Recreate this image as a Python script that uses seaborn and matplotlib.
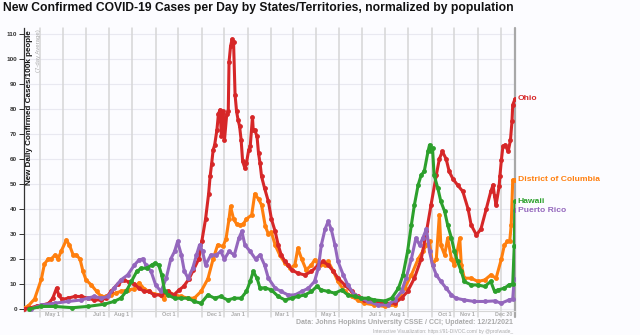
import matplotlib
matplotlib.use("Agg")
import matplotlib.pyplot as plt
import matplotlib.transforms as mtrans
import pandas as pd
import seaborn as sns

# ---------------- data ----------------
states = ["Ohio", "District of Columbia", "Hawaii", "Puerto Rico"]
state_colors = ["#d62728", "#ff7f0e", "#2ca02c", "#9467bd"]

ohio_dates = [
    "2020-03-11", "2020-03-20", "2020-03-28", "2020-04-05", "2020-04-13", "2020-04-18", "2020-04-23",
    "2020-04-26", "2020-04-30", "2020-05-08", "2020-05-17", "2020-05-26", "2020-06-03", "2020-06-12",
    "2020-06-21", "2020-06-27", "2020-07-04", "2020-07-13", "2020-07-21", "2020-07-28", "2020-08-04",
    "2020-08-10", "2020-08-17", "2020-08-23", "2020-08-30", "2020-09-08", "2020-09-17", "2020-09-25",
    "2020-10-02", "2020-10-08", "2020-10-15", "2020-10-21", "2020-10-28", "2020-11-01", "2020-11-06",
    "2020-11-10", "2020-11-12", "2020-11-14", "2020-11-16", "2020-11-18", "2020-11-21", "2020-11-23",
    "2020-11-25", "2020-11-27", "2020-11-29", "2020-12-01", "2020-12-04", "2020-12-06", "2020-12-07",
    "2020-12-09", "2020-12-11", "2020-12-13", "2020-12-15", "2020-12-17", "2020-12-19", "2020-12-21",
    "2020-12-23", "2020-12-25", "2020-12-28", "2020-12-30", "2021-01-02", "2021-01-04", "2021-01-07",
    "2021-01-08", "2021-01-10", "2021-01-13", "2021-01-15", "2021-01-17", "2021-01-19", "2021-01-23",
    "2021-01-28", "2021-02-01", "2021-02-06", "2021-02-10", "2021-02-14", "2021-02-19", "2021-02-23",
    "2021-02-28", "2021-03-08", "2021-03-17", "2021-03-26", "2021-04-04", "2021-04-10", "2021-04-17",
    "2021-04-24", "2021-04-30", "2021-05-09", "2021-05-18", "2021-05-26", "2021-06-04", "2021-06-17",
    "2021-07-01", "2021-07-14", "2021-07-23", "2021-07-31", "2021-08-09", "2021-08-18", "2021-08-25",
    "2021-08-31", "2021-09-07", "2021-09-11", "2021-09-15", "2021-09-20", "2021-09-24", "2021-09-29",
    "2021-10-05", "2021-10-12", "2021-10-19", "2021-10-23", "2021-10-30", "2021-11-05", "2021-11-12",
    "2021-11-18", "2021-11-21", "2021-11-23", "2021-11-25", "2021-11-29", "2021-11-30", "2021-12-02",
    "2021-12-04", "2021-12-07", "2021-12-11", "2021-12-14", "2021-12-16", "2021-12-17", "2021-12-20",
]
ohio_values = [
    0, 0.5, 1.2, 1.6, 2.3, 4.3, 8.3,
    5.6, 3.8, 4.3, 5, 5, 4.3, 3.6,
    3.6, 4.3, 7, 10, 11.6, 10.7, 10,
    8.3, 7, 7, 5.6, 5.6, 7, 5.6,
    7.6, 9, 12, 15.6, 20, 27, 36,
    46, 53, 58, 63.6, 65.6, 71.6, 78,
    79.6, 69, 79, 67.6, 78, 79, 98.7,
    105, 107.9, 106.7, 85.6, 79, 75.6, 73,
    67.6, 59, 56.3, 58.3, 63.6, 65, 76.7,
    71.6, 71.6, 69, 62.3, 58.3, 53, 48.3,
    43, 36, 31, 25.6, 21.6, 19, 17.6,
    15.6, 14.3, 13.6, 15, 17.6, 19, 17.6,
    15, 12.3, 9.6, 7, 5, 3.6, 3,
    2.3, 2.3, 4.3, 7, 12.3, 20, 31,
    41.6, 53.6, 60, 63, 60, 55, 52,
    49.6, 47, 40, 33.6, 29.6, 32, 40,
    47, 49.6, 45, 41.6, 49, 53, 59.6,
    65, 65.6, 63, 67.6, 75, 81.6, 84,
]

dc_dates = [
    "2020-03-11", "2020-03-16", "2020-03-25", "2020-04-03", "2020-04-07", "2020-04-12", "2020-04-16",
    "2020-04-21", "2020-04-25", "2020-04-29", "2020-05-06", "2020-05-10", "2020-05-15", "2020-05-19",
    "2020-05-24", "2020-05-28", "2020-06-01", "2020-06-08", "2020-06-15", "2020-06-21", "2020-06-28",
    "2020-07-04", "2020-07-11", "2020-07-17", "2020-07-26", "2020-08-04", "2020-08-10", "2020-08-17",
    "2020-08-23", "2020-08-30", "2020-09-08", "2020-09-12", "2020-09-17", "2020-09-26", "2020-10-05",
    "2020-10-14", "2020-10-22", "2020-10-31", "2020-11-09", "2020-11-16", "2020-11-22", "2020-11-29",
    "2020-12-03", "2020-12-07", "2020-12-09", "2020-12-13", "2020-12-17", "2020-12-22", "2020-12-26",
    "2020-12-30", "2021-01-06", "2021-01-10", "2021-01-15", "2021-01-19", "2021-01-24", "2021-01-28",
    "2021-02-01", "2021-02-06", "2021-02-12", "2021-02-19", "2021-02-26", "2021-03-04", "2021-03-08",
    "2021-03-13", "2021-03-19", "2021-03-26", "2021-03-30", "2021-04-06", "2021-04-13", "2021-04-17",
    "2021-04-24", "2021-04-30", "2021-05-09", "2021-05-18", "2021-05-26", "2021-06-04", "2021-06-17",
    "2021-07-01", "2021-07-14", "2021-07-21", "2021-07-27", "2021-08-05", "2021-08-14", "2021-08-20",
    "2021-08-25", "2021-08-29", "2021-09-02", "2021-09-07", "2021-09-11", "2021-09-13", "2021-09-18",
    "2021-09-22", "2021-09-27", "2021-10-01", "2021-10-08", "2021-10-10", "2021-10-14", "2021-10-23",
    "2021-11-01", "2021-11-10", "2021-11-18", "2021-11-25", "2021-12-02", "2021-12-06", "2021-12-10",
    "2021-12-13", "2021-12-15", "2021-12-17", "2021-12-20",
]
dc_values = [
    0.5, 1, 4, 12, 18, 20, 20,
    21.6, 20, 23, 27.6, 25.6, 21.6, 21.6,
    20, 15, 11.6, 9.6, 7, 5, 5,
    5.6, 6.5, 7, 7.6, 8, 10.5, 8,
    7, 6, 5.6, 4, 7, 5.6, 5,
    4.3, 4.3, 7, 12, 20, 25.6, 25,
    28, 36, 41, 36, 34, 33.6, 34,
    36, 37.6, 46, 44, 41.6, 33, 30,
    30.6, 25.6, 21.6, 18.3, 16.3, 17.6, 24.3,
    20, 15.6, 17.6, 19.6, 17.6, 17.6, 19,
    15, 11, 7, 5, 3.6, 2.3, 1.6,
    1, 1.6, 5.6, 8.3, 13.6, 20, 23,
    25.6, 27, 17.6, 20, 37.6, 25.6, 21.6,
    28.3, 20, 17.6, 28.3, 17.6, 12.3, 12.3,
    11, 11.6, 13.6, 12.3, 20, 25.6, 27,
    27, 33.6, 51.6, 51.6,
]

hawaii_dates = [
    "2020-03-18", "2020-04-03", "2020-04-21", "2020-05-14", "2020-06-03", "2020-06-25", "2020-07-08",
    "2020-07-17", "2020-07-24", "2020-07-31", "2020-08-07", "2020-08-13", "2020-08-20", "2020-08-27",
    "2020-08-31", "2020-09-05", "2020-09-09", "2020-09-13", "2020-09-17", "2020-09-26", "2020-10-05",
    "2020-10-14", "2020-10-22", "2020-10-31", "2020-11-09", "2020-11-18", "2020-11-26", "2020-12-05",
    "2020-12-14", "2020-12-23", "2020-12-30", "2021-01-04", "2021-01-08", "2021-01-13", "2021-01-17",
    "2021-01-23", "2021-02-01", "2021-02-10", "2021-02-19", "2021-02-28", "2021-03-08", "2021-03-17",
    "2021-03-26", "2021-04-02", "2021-04-08", "2021-04-17", "2021-04-26", "2021-05-05", "2021-05-13",
    "2021-05-22", "2021-05-31", "2021-06-09", "2021-06-17", "2021-07-01", "2021-07-10", "2021-07-19",
    "2021-07-25", "2021-07-31", "2021-08-05", "2021-08-09", "2021-08-14", "2021-08-18", "2021-08-22",
    "2021-08-27", "2021-08-29", "2021-08-31", "2021-09-02", "2021-09-04", "2021-09-09", "2021-09-13",
    "2021-09-18", "2021-09-22", "2021-09-27", "2021-10-01", "2021-10-05", "2021-10-10", "2021-10-14",
    "2021-10-23", "2021-11-01", "2021-11-10", "2021-11-18", "2021-11-23", "2021-11-27", "2021-12-06",
    "2021-12-12", "2021-12-17", "2021-12-19", "2021-12-20",
]
hawaii_values = [
    0, 1, 1, 0.5, 1, 1.9, 3,
    4.3, 7, 11, 15, 16.3, 16.3, 17.6,
    18.3, 17.6, 13.6, 7, 5.6, 4.3, 4.3,
    4.3, 3, 2.3, 5.6, 4.3, 5, 3.6,
    4.3, 4.3, 7, 11, 15, 12.3, 8.3,
    8.5, 7.6, 5, 3.6, 4.3, 5, 5.6,
    7, 9, 7.6, 7, 6.3, 7.6, 5.6,
    5, 4.3, 4.3, 3.6, 3.2, 4.3, 8.3,
    13.6, 23, 33.6, 41.6, 49.6, 53.6, 55,
    63, 65.6, 63, 64.3, 53.6, 48.3, 43,
    39, 33.6, 28.3, 23, 19, 15, 11,
    9.6, 9.6, 9, 11, 7, 7.6, 8.3,
    9.6, 10, 25, 43,
]

pr_dates = [
    "2020-03-20", "2020-04-03", "2020-04-21", "2020-05-08", "2020-05-26", "2020-06-03", "2020-06-12",
    "2020-06-21", "2020-06-30", "2020-07-08", "2020-07-17", "2020-07-26", "2020-08-04", "2020-08-10",
    "2020-08-15", "2020-08-19", "2020-08-26", "2020-09-01", "2020-09-08", "2020-09-15", "2020-09-21",
    "2020-09-26", "2020-09-30", "2020-10-05", "2020-10-09", "2020-10-14", "2020-10-20", "2020-10-25",
    "2020-10-29", "2020-11-02", "2020-11-06", "2020-11-13", "2020-11-20", "2020-11-26", "2020-12-01",
    "2020-12-07", "2020-12-14", "2020-12-20", "2020-12-24", "2020-12-28", "2021-01-04", "2021-01-11",
    "2021-01-17", "2021-01-23", "2021-01-28", "2021-02-06", "2021-02-14", "2021-02-23", "2021-03-04",
    "2021-03-13", "2021-03-22", "2021-03-30", "2021-04-04", "2021-04-08", "2021-04-13", "2021-04-17",
    "2021-04-21", "2021-04-26", "2021-04-30", "2021-05-07", "2021-05-13", "2021-05-22", "2021-05-31",
    "2021-06-09", "2021-06-22", "2021-07-05", "2021-07-14", "2021-07-23", "2021-07-29", "2021-08-05",
    "2021-08-11", "2021-08-16", "2021-08-20", "2021-08-25", "2021-08-29", "2021-09-02", "2021-09-07",
    "2021-09-13", "2021-09-20", "2021-09-27", "2021-10-03", "2021-10-14", "2021-10-27", "2021-11-10",
    "2021-11-23", "2021-12-02", "2021-12-12", "2021-12-17", "2021-12-19", "2021-12-20",
]
pr_values = [
    0, 1.6, 2.3, 3, 3.6, 4.3, 5,
    4.3, 5, 8.3, 11.6, 13.6, 17.6, 19.6,
    20, 17.6, 15, 9.6, 7, 12.3, 20,
    23, 27, 21.6, 15, 12.3, 16.3, 21.6,
    25.6, 23, 17.6, 21.6, 21.6, 23, 20,
    23, 21.6, 28.3, 31, 25.6, 23, 20,
    21.6, 17.6, 12.3, 8.3, 7, 5.6, 5.6,
    7, 8.3, 11, 16.3, 25.6, 32, 35,
    32, 25.6, 19, 13.6, 9.6, 5.6, 4.3,
    3, 1.6, 1.6, 3.6, 7, 12.3, 20,
    28.3, 25.6, 28.3, 32, 23, 17.6, 13.6,
    11, 8.3, 5.6, 4.3, 3.6, 3, 3,
    3.2, 2.3, 3.6, 4, 12, 39.5,
]

y_ticks = [0, 10, 20, 30, 40, 50, 60, 70, 80, 90, 100, 110]
x_tick_dates = ["2020-05-01", "2020-07-01", "2020-08-01", "2020-10-01", "2020-12-01", "2021-01-01",
                "2021-03-01", "2021-05-01", "2021-07-01", "2021-08-01", "2021-10-01", "2021-11-01",
                "2021-12-20"]
x_tick_labels = ["May 1", "Jul 1", "Aug 1", "Oct 1", "Dec 1", "Jan 1", "Mar 1", "May 1", "Jul 1",
                 "Aug 1", "Oct 1", "Nov 1", "Dec 20"]

title = "New Confirmed COVID-19 Cases per Day by States/Territories, normalized by population"
y_label = "New Daily Confirmed Cases/100k people"
y_sublabel = "(7-day Average)"
footer1 = "Data: Johns Hopkins University CSSE / CCI; Updated: 12/21/2021"
footer2 = "Interactive Visualization: https://91-DIVOC.com/ by @profwade_"

# ---------------- build table ----------------
series = {
    "Ohio": (ohio_dates, ohio_values),
    "District of Columbia": (dc_dates, dc_values),
    "Hawaii": (hawaii_dates, hawaii_values),
    "Puerto Rico": (pr_dates, pr_values),
}
frames = []
for name, (d, v) in series.items():
    frames.append(pd.DataFrame({"date": pd.to_datetime(d), "value": v, "state": name}))
df = pd.concat(frames, ignore_index=True)
palette = dict(zip(states, state_colors))

# ---------------- style ----------------
sns.set_theme(style="white")
FONT = ["Liberation Sans Narrow", "Liberation Sans", "DejaVu Sans"]
plt.rcParams["font.family"] = ["Liberation Sans", "DejaVu Sans"]
BG = "#fcfcff"

W, H = 640, 335
fig = plt.figure(figsize=(6.4, 3.35), dpi=100, facecolor=BG)
ax_left, ax_right, ax_top, ax_bottom = 24, 515, 27.75, 310.7
ax = fig.add_axes([ax_left / W, 1 - ax_bottom / H, (ax_right - ax_left) / W, (ax_bottom - ax_top) / H])
ax.set_facecolor(BG)

x0, x1 = pd.Timestamp("2020-03-11"), pd.Timestamp("2021-12-20")
ax.set_xlim(x0, x1)
ax.set_ylim(-0.7, 112.5)

# horizontal grid
for yv in y_ticks:
    ax.axhline(yv, color="#e9e9f1", lw=0.8, zorder=0)
# month gridlines (with small extension below the axis)
ext = 6 / (ax_bottom - ax_top)
for m in pd.date_range("2020-04-01", "2021-12-01", freq="MS"):
    ax.axvline(m, ymin=-ext, ymax=1, color="#d6d6d6", lw=1.1, zorder=0, clip_on=False)
ax.axvline(pd.Timestamp(x_tick_dates[-1]), ymin=-ext, ymax=1, color="#a8a8a8", lw=1.6, zorder=0.5,
           clip_on=False)

draw_order = ["District of Columbia", "Ohio", "Puerto Rico", "Hawaii"]
sns.lineplot(data=df, x="date", y="value", hue="state", hue_order=draw_order, palette=palette,
             estimator=None, sort=True, marker="o", markersize=3.5, markeredgewidth=0,
             linewidth=2.2, legend=False, ax=ax, zorder=3)

# axes cosmetics
for s in ["top", "right"]:
    ax.spines[s].set_visible(False)
ax.spines["left"].set_color("#333333")
ax.spines["left"].set_linewidth(0.9)
ax.spines["bottom"].set_color("#d6d6d6")
ax.spines["bottom"].set_linewidth(0.8)

ax.set_yticks(y_ticks)
ax.set_yticklabels([str(v) for v in y_ticks])
ax.tick_params(axis="y", length=3.6, width=0.7, color="#333333", pad=1.4, labelsize=4.6,
               labelcolor="#333333", left=True)
ax.set_xticks(pd.to_datetime(x_tick_dates))
ax.set_xticklabels(x_tick_labels)
ax.tick_params(axis="x", length=0, pad=0.8, labelsize=3.9, labelcolor="#aaaaaa", bottom=True)
off = mtrans.ScaledTranslation(-3 / 100, 0, fig.dpi_scale_trans)
for lbl in ax.get_xticklabels():
    lbl.set_ha("right")
    lbl.set_fontweight("bold")
    lbl.set_transform(lbl.get_transform() + off)
for lbl in ax.get_yticklabels():
    lbl.set_fontweight("bold")
ax.set_xlabel("")
ax.set_ylabel("")

# y-axis titles inside the plot
ax.text((29.5 - ax_left) / (ax_right - ax_left), 0.992, y_label, rotation=90, ha="center", va="top",
        transform=ax.transAxes, fontsize=5.8, fontweight="bold", color="#111111", family=FONT)
ax.text((38.5 - ax_left) / (ax_right - ax_left), 0.995, y_sublabel, rotation=90, ha="center", va="top",
        transform=ax.transAxes, fontsize=4.3, color="#aaaaaa", family=FONT)

# end labels
label_off = mtrans.ScaledTranslation(2.5 / 100, 0, fig.dpi_scale_trans)
for name, col in zip(states, state_colors):
    d, v = series[name]
    ax.text(pd.Timestamp(d[-1]), v[-1], name, color=col, fontsize=6.1, fontweight="bold",
            ha="left", va="center", transform=ax.transData + label_off, clip_on=False)

# title and footers
fig.text(3 / W, 1 - 8.5 / H, title, ha="left", va="center", fontsize=8.7, fontweight="bold",
         color="#111111", family=FONT)
fig.text(513 / W, 1 - 323 / H, footer1, ha="right", va="center", fontsize=5.0, fontweight="bold",
         color="#aaaaaa", family=FONT)
fig.text(513 / W, 1 - 331 / H, footer2, ha="right", va="center", fontsize=3.5, color="#aaaaaa",
         family=FONT)

fig.savefig("out.png", dpi=100, facecolor=BG)
